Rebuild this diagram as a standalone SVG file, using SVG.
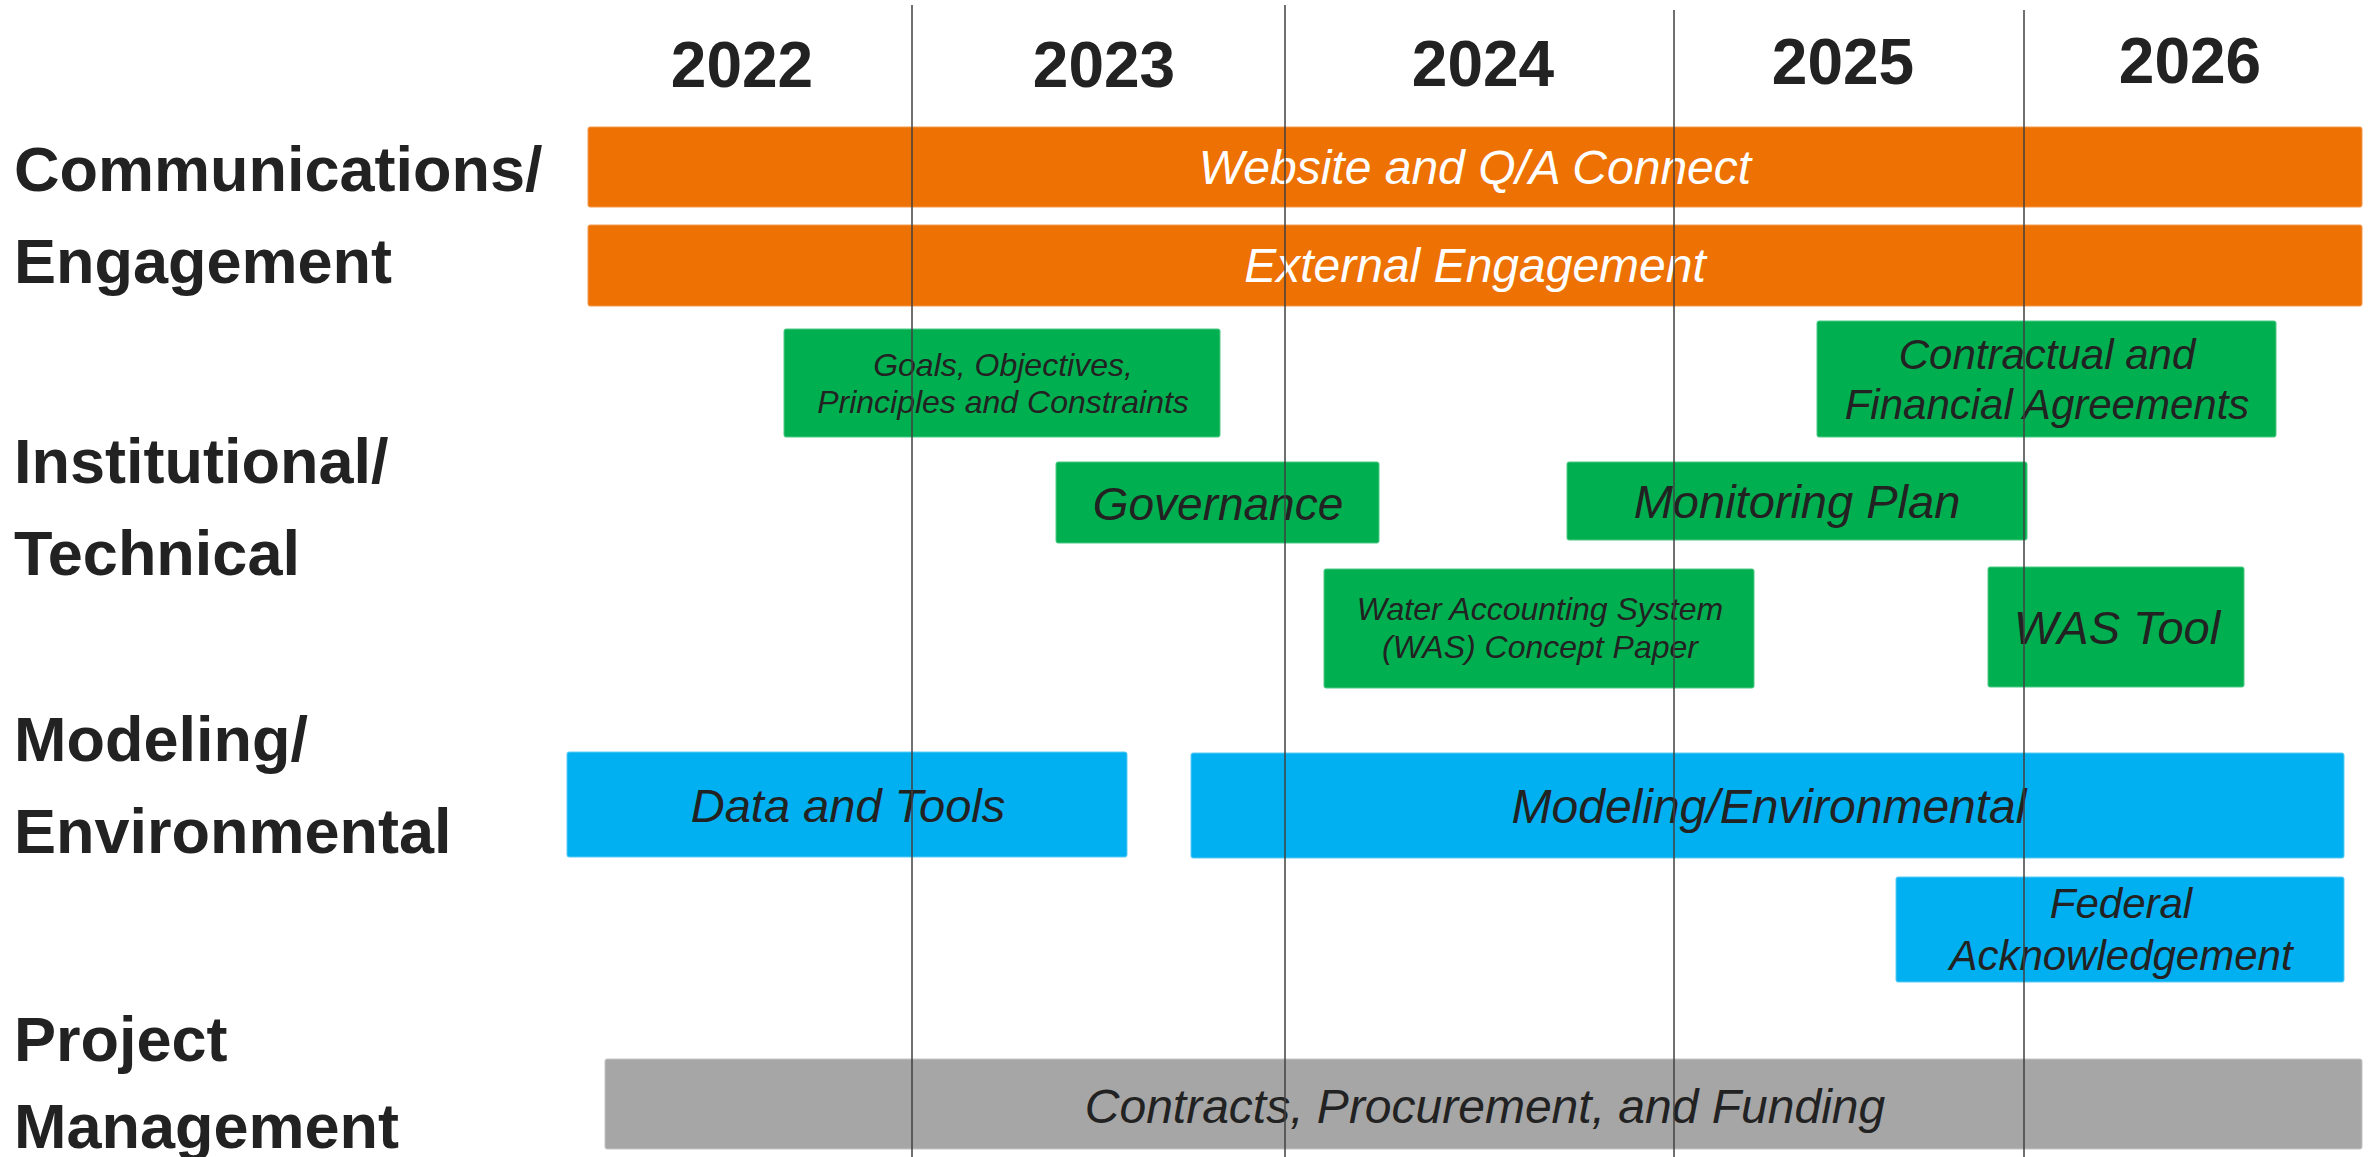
<svg xmlns="http://www.w3.org/2000/svg" width="2369" height="1157" viewBox="0 0 2369 1157">
<style>
  text { font-family: "Liberation Sans", Arial, sans-serif; }
  .year { font-size: 64px; font-weight: bold; fill: #222222; text-anchor: middle; }
  .row { font-size: 63px; font-weight: bold; fill: #222222; }
  .lbl { font-style: italic; fill: #222222; text-anchor: middle; }
  .wlbl { font-style: italic; fill: #ffffff; text-anchor: middle; }
  .orange { fill: #ED7103; stroke: #F39A4E; stroke-width: 1; }
  .green { fill: #00B050; stroke: #4DC985; stroke-width: 1; }
  .blue { fill: #00B0F0; stroke: #5CCBF5; stroke-width: 1; }
  .gray { fill: #A6A6A6; stroke: #C4C4C4; stroke-width: 1; }
  .grid { stroke: #404040; stroke-width: 1.5; }
</style>
<rect width="2369" height="1157" fill="#ffffff"/>

<g id="years">
  <text class="year" x="742" y="87">2022</text>
  <text class="year" x="1104" y="87">2023</text>
  <text class="year" x="1483" y="86">2024</text>
  <text class="year" x="1843" y="84">2025</text>
  <text class="year" x="2190" y="83">2026</text>
</g>

<g id="row-labels">
  <text class="row" x="14" y="191">Communications/</text>
  <text class="row" x="14" y="283">Engagement</text>
  <text class="row" x="14" y="483">Institutional/</text>
  <text class="row" x="14" y="575">Technical</text>
  <text class="row" x="14" y="761">Modeling/</text>
  <text class="row" x="14" y="853">Environmental</text>
  <text class="row" x="14" y="1061">Project</text>
  <text class="row" x="14" y="1148">Management</text>
</g>

<g id="website">
  <rect class="orange" x="588" y="127" width="1774" height="80" rx="2"/>
  <text class="wlbl" x="1475" y="184" font-size="48">Website and Q/A Connect</text>
</g>
<g id="external-engagement">
  <rect class="orange" x="588" y="225" width="1774" height="81" rx="2"/>
  <text class="wlbl" x="1475" y="282" font-size="48">External Engagement</text>
</g>

<g id="goals">
  <rect class="green" x="784" y="329" width="436" height="108" rx="2"/>
  <text class="lbl" x="1003" y="376" font-size="32">Goals, Objectives,</text>
  <text class="lbl" x="1003" y="413" font-size="32">Principles and Constraints</text>
</g>
<g id="governance">
  <rect class="green" x="1056" y="462" width="323" height="81" rx="2"/>
  <text class="lbl" x="1218" y="520" font-size="46">Governance</text>
</g>
<g id="contractual">
  <rect class="green" x="1817" y="321" width="459" height="116" rx="2"/>
  <text class="lbl" x="2047" y="369" font-size="42">Contractual and</text>
  <text class="lbl" x="2047" y="419" font-size="42">Financial Agreements</text>
</g>
<g id="monitoring-plan">
  <rect class="green" x="1567" y="462" width="460" height="78" rx="2"/>
  <text class="lbl" x="1797" y="518" font-size="47">Monitoring Plan</text>
</g>
<g id="was-concept">
  <rect class="green" x="1324" y="569" width="430" height="119" rx="2"/>
  <text class="lbl" x="1540" y="620" font-size="32">Water Accounting System</text>
  <text class="lbl" x="1540" y="658" font-size="32">(WAS) Concept Paper</text>
</g>
<g id="was-tool">
  <rect class="green" x="1988" y="567" width="256" height="120" rx="2"/>
  <text class="lbl" x="2117" y="644" font-size="47">WAS Tool</text>
</g>

<g id="data-tools">
  <rect class="blue" x="567" y="752" width="560" height="105" rx="2"/>
  <text class="lbl" x="848" y="822" font-size="47">Data and Tools</text>
</g>
<g id="modeling-environmental">
  <rect class="blue" x="1191" y="753" width="1153" height="105" rx="2"/>
  <text class="lbl" x="1769" y="823" font-size="48">Modeling/Environmental</text>
</g>
<g id="federal-ack">
  <rect class="blue" x="1896" y="877" width="448" height="105" rx="2"/>
  <text class="lbl" x="2121" y="918" font-size="42">Federal</text>
  <text class="lbl" x="2121" y="970" font-size="42">Acknowledgement</text>
</g>

<g id="contracts">
  <rect class="gray" x="605" y="1059" width="1757" height="90" rx="2"/>
  <text class="lbl" x="1485" y="1123" font-size="48">Contracts, Procurement, and Funding</text>
</g>

<g id="connectors">
  <line class="grid" x1="912" y1="5" x2="912" y2="1157"/>
  <line class="grid" x1="1285" y1="5" x2="1285" y2="1157"/>
  <line class="grid" x1="1674" y1="10" x2="1674" y2="1157"/>
  <line class="grid" x1="2024" y1="10" x2="2024" y2="1157"/>
</g>
</svg>
